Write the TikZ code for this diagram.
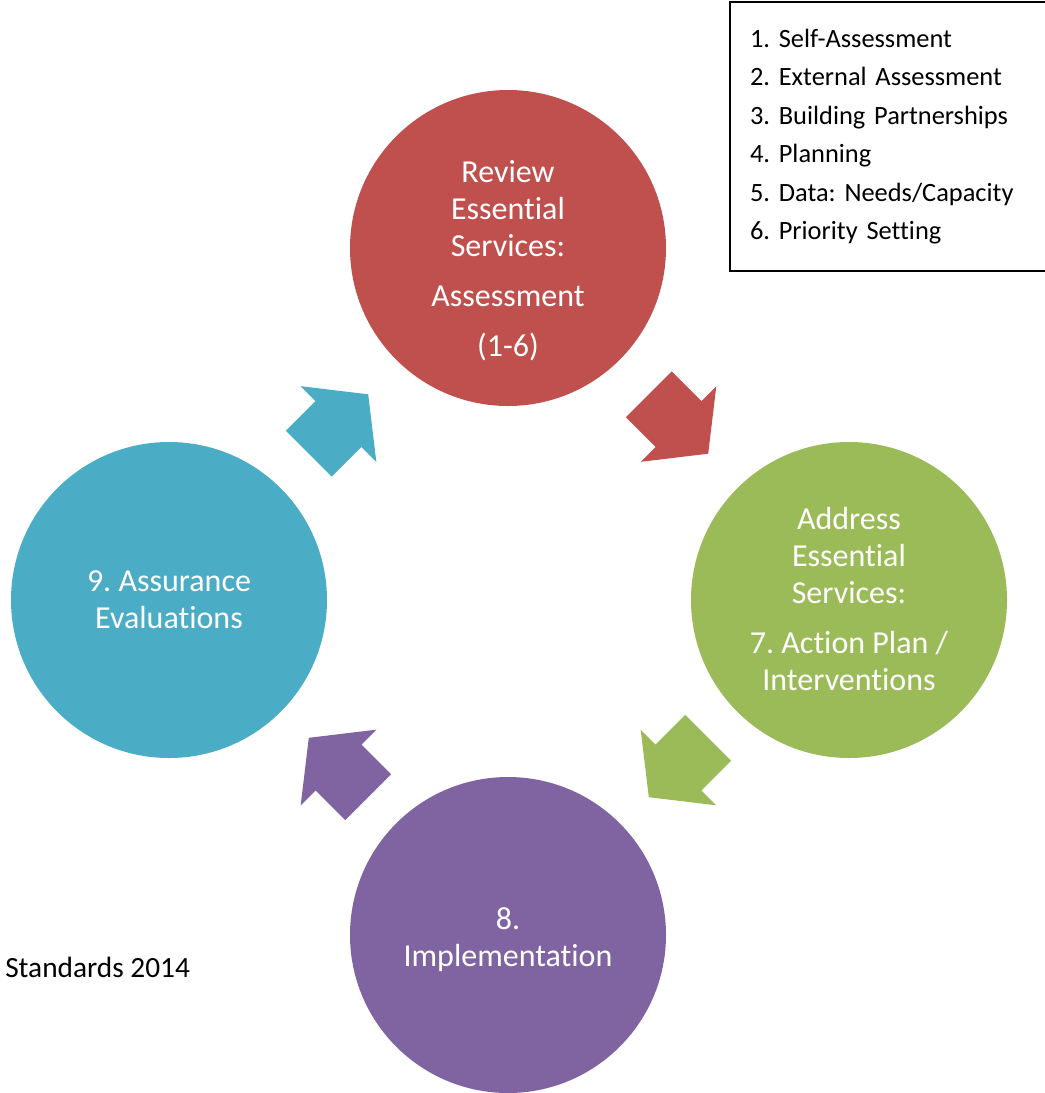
\documentclass[tikz,border=0pt]{standalone}
\usepackage{fontspec}
\setmainfont{Carlito}[Ligatures=NoCommon]
\usepackage{tikz}
\usetikzlibrary{calc}
\frenchspacing

\definecolor{reviewred}{HTML}{C0504D}
\definecolor{addressgreen}{HTML}{9BBB59}
\definecolor{implpurple}{HTML}{8064A2}
\definecolor{assureblue}{HTML}{4BACC6}

% block arrow half way between two circles: colour, from, to, angle
\newcommand{\cyclearrow}[4]{%
  \fill[#1, shift={($(#2)!0.5!(#3)$)}, rotate=#4]
    (-42,-32.5) -- (0,-32.5) -- (0,-53.5) -- (42,0) -- (0,53.5) -- (0,32.5) -- (-42,32.5) -- cycle;}

\begin{document}
\begin{tikzpicture}[x=0.75pt, y=-0.75pt,
    ball/.style={circle, draw=none, inner sep=0pt, minimum size=237pt},
    balltext/.style={align=center, text=white, font=\fontsize{24}{27.75}\selectfont},
    listbox/.style={draw, line width=1.5pt, anchor=north west, align=left,
      text width=230pt, inner xsep=15pt, minimum height=201.75pt,
      font=\fontsize{19.8}{28.9}\selectfont}]

    \useasboundingbox (0,0) rectangle (1045,1093);

    \def\R{158} % radius of the circles (px)
    \node[ball, fill=reviewred] (review) at (508,248) {};
    \node[ball, fill=addressgreen] (address) at (849,600) {};
    \node[ball, fill=implpurple] (impl) at (508,935) {};
    \node[ball, fill=assureblue] (assure) at (169,600) {};

    \node[balltext] (reviewtext) at ([yshift=-9.5pt]review.center)
      {Review\\Essential\\Services:\\[9.5pt]Assessment\\[9.5pt](1-6)};
    \node[balltext] (addresstext) at ([yshift=1pt]address.center)
      {Address\\Essential\\Services:\\[9.5pt]7. Action Plan /\\Interventions};
    \node[balltext] (impltext) at ([yshift=-3.75pt]impl.center) {8.\\Implementation};
    \node[balltext] (assuretext) at (assure.center) {9. Assurance\\Evaluations};

    \cyclearrow{reviewred}{review}{address}{-45}
    \cyclearrow{addressgreen}{address}{impl}{-135}
    \cyclearrow{implpurple}{impl}{assure}{135}
    \cyclearrow{assureblue}{assure}{review}{45}

    \node[listbox] (steps) at (729,1)
      {1. Self-Assessment\\2. External Assessment\\3. Building Partnerships\\4. Planning\\5. Data: Needs/Capacity\\6. Priority Setting\par\vspace{5pt}};

    \node[anchor=west, inner sep=0pt, font=\fontsize{22}{26}\selectfont] (year) at (5,967) {Standards 2014};

  \end{tikzpicture}
\end{document}
